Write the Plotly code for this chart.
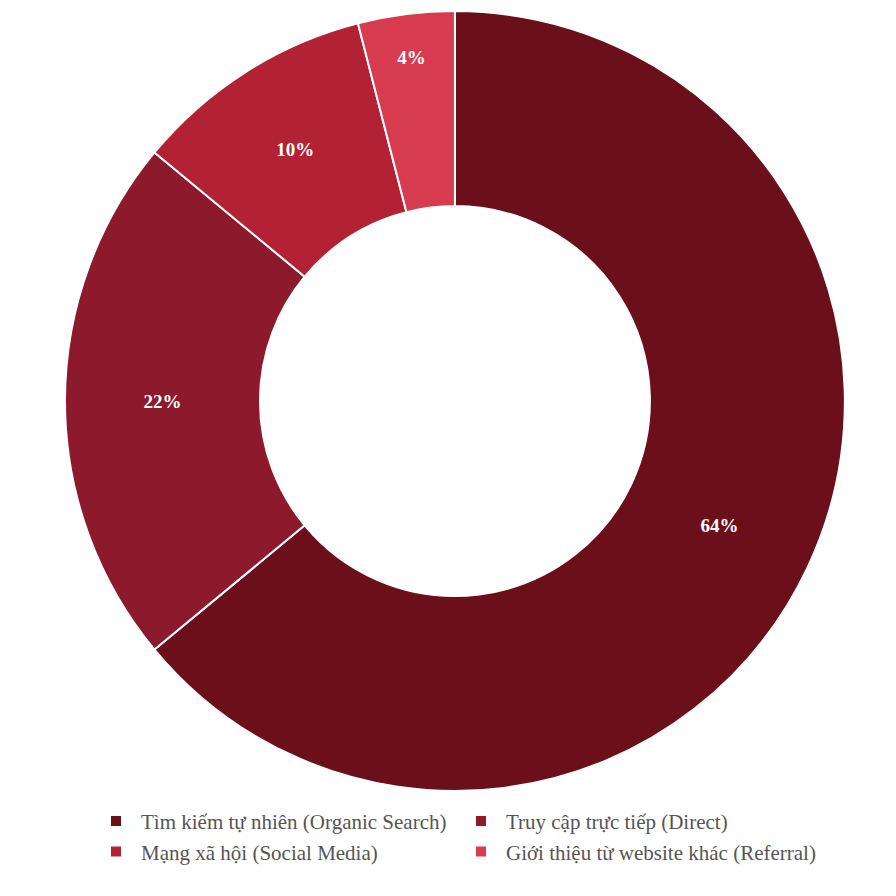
import plotly.graph_objects as go

labels = ["Tìm kiếm tự nhiên (Organic Search)", "Truy cập trực tiếp (Direct)",
          "Mạng xã hội (Social Media)", "Giới thiệu từ website khác (Referral)"]
values = [64, 22, 10, 4]
colors = ["#6B0F1A", "#8C1A2C", "#B22234", "#D63B50"]

fig = go.Figure(go.Pie(
    labels=labels, values=values, hole=0.5, sort=False, direction="clockwise",
    rotation=0, marker=dict(colors=colors, line=dict(color="white", width=2)),
    textinfo="percent", textposition="inside", insidetextorientation="horizontal",
    textfont=dict(family="Liberation Serif", size=19, color="white", weight="bold"),
    domain=dict(x=[0.0636, 0.934], y=[0.126, 0.9967]),
))
fig.update_layout(
    width=896, height=896, margin=dict(l=0, r=0, t=0, b=0, autoexpand=False),
    paper_bgcolor="white", showlegend=True,
    legend=dict(orientation="h", x=0.5, xanchor="center", yref="container",
                y=0.115, yanchor="top", itemwidth=40,
                font=dict(family="Liberation Serif", size=21, color="#555555")),
)
fig.write_html("out.html")
